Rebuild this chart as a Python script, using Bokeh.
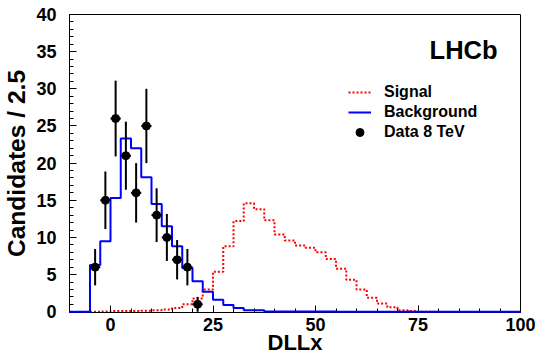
from bokeh.plotting import figure
from bokeh.models import (Range1d, SingleIntervalTicker, Label, Legend, LegendItem)
from bokeh.embed import file_html
from bokeh.resources import INLINE

# ---------------- data ----------------
bin_width = 2.5
# Background histogram: bins from -10 to 100
bkg_start = -10.0
bkg_values = [0.0, 0.0, 6.3, 9.5, 15.3, 23.3, 22.0, 18.1, 14.5, 11.5, 8.8, 5.9,
              4.1, 2.7, 1.6, 0.9, 0.5, 0.2, 0.2, 0.05, 0.05, 0.04, 0.03, 0.03,
              0.02, 0.02, 0.01, 0.01, 0.0, 0.0, 0.0, 0.0, 0.0, 0.0, 0.0, 0.0,
              0.0, 0.0, 0.0, 0.0, 0.0, 0.0, 0.0, 0.0]
# Signal histogram: bins from -5 to 80
sig_start = -5.0
sig_values = [0.0, 0.05, 0.1, 0.1, 0.1, 0.15, 0.2, 0.3, 0.5, 1.0, 1.8, 3.0,
              5.4, 8.8, 12.2, 14.6, 13.8, 12.3, 10.4, 9.6, 8.9, 8.6, 8.0, 7.1,
              5.8, 4.3, 3.0, 1.9, 1.1, 0.6, 0.2, 0.1, 0.0, 0.0]
# Data (8 TeV)
data_x = [-3.75, -1.25, 1.25, 3.75, 6.25, 8.75, 11.25, 13.75, 16.25, 18.75, 21.25]
data_y = [6, 15, 26, 21, 16, 25, 13, 10, 7, 6, 1]
data_err = [2.45, 3.87, 5.10, 4.58, 4.0, 5.0, 3.61, 3.16, 2.65, 2.45, 1.0]

x_ticks_interval = 25
y_ticks_interval = 5
legend_labels = ["Signal", "Background", "Data 8 TeV"]

FONT = "Liberation Sans"


def step_xy(start, vals):
    edges = [start + i * bin_width for i in range(len(vals) + 1)]
    ys = list(vals) + [vals[-1]]
    return edges, ys


p = figure(width=539, height=357, title=None,
           x_range=Range1d(-10, 100), y_range=Range1d(-0.1, 40),
           output_backend="svg", toolbar_location=None,
           min_border_left=68, min_border_right=19,
           min_border_top=14, min_border_bottom=45,
           x_axis_label="DLLx", y_axis_label="Candidates / 2.5")
p.xgrid.visible = False
p.ygrid.visible = False
p.outline_line_color = "black"
p.outline_line_width = 1
p.background_fill_color = "white"
p.border_fill_color = "white"

sx, sy = step_xy(sig_start, sig_values)
r_sig = p.step(sx, sy, mode="after", line_color="#ff0000", line_width=2,
               line_dash="2 2")
bx, by = step_xy(bkg_start, bkg_values)
r_bkg = p.step(bx, by, mode="after", line_color="#0000ff", line_width=2,
               level="overlay")

# error bars
p.segment(x0=data_x, x1=data_x,
          y0=[y - e for y, e in zip(data_y, data_err)],
          y1=[y + e for y, e in zip(data_y, data_err)],
          line_color="black", line_width=2, level="overlay")
p.segment(x0=[x - bin_width / 2 for x in data_x],
          x1=[x + bin_width / 2 for x in data_x],
          y0=data_y, y1=data_y, line_color="black", line_width=2,
          level="overlay")
r_dat = p.scatter(data_x, data_y, size=8, marker="circle",
                  fill_color="black", line_color="black", level="overlay")

# axes
for ax, interval in ((p.xaxis[0], x_ticks_interval), (p.yaxis[0], y_ticks_interval)):
    ax.ticker = SingleIntervalTicker(interval=interval, num_minor_ticks=5)
    ax.major_tick_in = 7
    ax.major_tick_out = 0
    ax.minor_tick_in = 4
    ax.minor_tick_out = 0
    ax.axis_line_color = "black"
    ax.major_tick_line_color = "black"
    ax.minor_tick_line_color = "black"
    ax.major_label_text_font = FONT
    ax.major_label_text_font_style = "bold"
    ax.major_label_text_font_size = "18px"
    ax.major_label_text_color = "black"
    ax.axis_label_text_font = FONT
    ax.axis_label_text_font_style = "bold"
    ax.axis_label_text_color = "black"
p.xaxis[0].major_label_standoff = 5
p.yaxis[0].major_label_standoff = 13
p.xaxis[0].axis_label_text_font_size = "22px"
p.xaxis[0].axis_label_standoff = -4
p.yaxis[0].axis_label_text_font_size = "24.6px"
p.yaxis[0].axis_label_standoff = 3

p.add_layout(Label(x=94.4, y=35.2, text="LHCb", text_font=FONT,
                   text_font_style="bold", text_font_size="25.5px",
                   text_align="right", text_baseline="alphabetic",
                   text_color="black"))

legend = Legend(items=[LegendItem(label=legend_labels[0], renderers=[r_sig]),
                       LegendItem(label=legend_labels[1], renderers=[r_bkg]),
                       LegendItem(label=legend_labels[2], renderers=[r_dat])],
                location=(279, 170), orientation="vertical",
                glyph_width=23, glyph_height=20, label_height=20,
                label_standoff=13, spacing=0, padding=0, margin=0,
                border_line_color=None, background_fill_alpha=0,
                label_text_font=FONT, label_text_font_style="bold",
                label_text_font_size="16px", label_text_color="black")
p.add_layout(legend)

open("out.html", "w").write(file_html(p, INLINE))
